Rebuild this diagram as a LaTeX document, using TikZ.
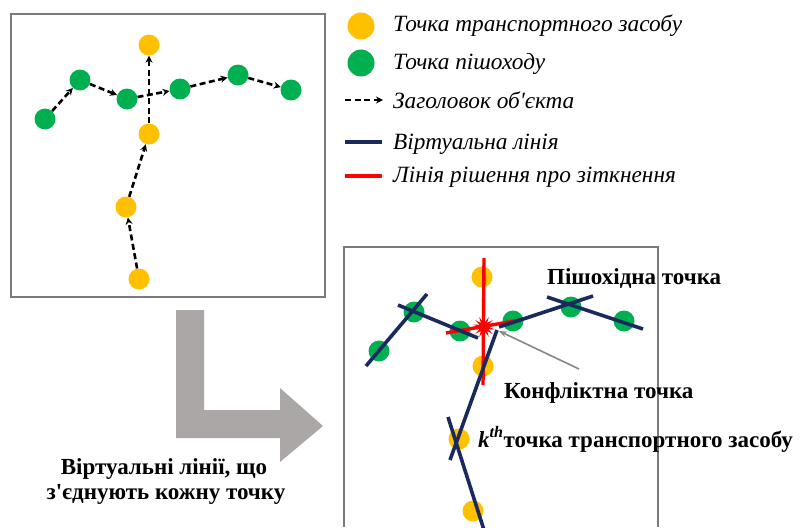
\documentclass[tikz,border=0pt]{standalone}
\usepackage{fontspec}
\setmainfont{Liberation Serif}[Ligatures=TeXOff]
\usetikzlibrary{arrows.meta,shapes.geometric,shapes.symbols}
\definecolor{veh}{HTML}{FFC000}
\definecolor{ped}{HTML}{00B050}
\definecolor{navy}{HTML}{1B2A5E}
\definecolor{boxgray}{HTML}{7A7A7A}
\definecolor{arrgray}{HTML}{ABA7A7}
\begin{document}
\begin{tikzpicture}[x=1pt,y=-1pt,
  vdot/.style={circle,fill=veh,minimum size=21pt,inner sep=0pt},
  pdot/.style={circle,fill=ped,minimum size=21pt,inner sep=0pt},
  bigdot/.style={minimum size=27pt},
  headarr/.style={draw=black,line width=2.6pt,dash pattern=on 6pt off 3.5pt,-{Stealth[length=7pt,width=7pt]}},
  vline/.style={draw=navy,line width=3.6pt},
  rline/.style={draw=red,line width=3.4pt},
  legtxt/.style={anchor=base west,font=\fontsize{23.3}{26}\selectfont\itshape,inner sep=0pt},
  lbl/.style={anchor=base west,font=\fontsize{23}{26}\selectfont\bfseries,inner sep=0pt},
  frame/.style={draw=boxgray,line width=1.6pt}]
\useasboundingbox (0,0) rectangle (802,527);
\fill[white] (0,0) rectangle (802,527);
% left box
\draw[frame] (11,14) rectangle (325,297);
\node[pdot] (g1) at (45,119) {};
\node[pdot] (g2) at (80,80) {};
\node[pdot] (g3) at (127,99) {};
\node[pdot] (g4) at (180,89) {};
\node[pdot] (g5) at (238,75) {};
\node[pdot] (g6) at (291,90) {};
\node[vdot] (y1) at (149,45) {};
\node[vdot] (y2) at (149,134) {};
\node[vdot] (y3) at (126,207) {};
\node[vdot] (y4) at (139,279) {};
\draw[headarr] (g1) -- (g2);
\draw[headarr] (g2) -- (g3);
\draw[headarr] (g3) -- (g4);
\draw[headarr] (g4) -- (g5);
\draw[headarr] (g5) -- (g6);
\draw[headarr] (y4) -- (y3);
\draw[headarr] (y3) -- (y2);
\draw[headarr] (y2) -- (y1);
% legend
\node[vdot,bigdot] (lv) at (361,26) {};
\node[pdot,bigdot] (lp) at (361,63) {};
\coordinate (lha) at (345,100);
\coordinate (lhb) at (383,100);
\draw[headarr] (lha) -- (lhb);
\coordinate (lba) at (345,142);
\coordinate (lbb) at (382,142);
\draw[vline] (lba) -- (lbb);
\coordinate (lra) at (345,176);
\coordinate (lrb) at (382,176);
\draw[rline] (lra) -- (lrb);
\node[legtxt] (t1) at (393,32) {Точка транспортного засобу};
\node[legtxt] (t2) at (393,70) {Точка пішоходу};
\node[legtxt] (t3) at (393,108) {Заголовок об'єкта};
\node[legtxt] (t4) at (393,149) {Віртуальна лінія};
\node[legtxt] (t5) at (393,182) {Лінія рішення про зіткнення};
% big L arrow
\fill[arrgray] (176,310) -- (204,310) -- (204,410) -- (280,410) -- (280,388) -- (323,426) -- (280,462) -- (280,438) -- (176,438) -- cycle;
\node[font=\fontsize{23}{26}\selectfont\bfseries,anchor=base,inner sep=0pt] (c1) at (164,474) {Віртуальні лінії, що};
\node[font=\fontsize{23}{26}\selectfont\bfseries,anchor=base,inner sep=0pt] (c2) at (166,499) {з'єднують кожну точку};
% right box
\draw[frame] (344,527) -- (344,247) -- (658,247) -- (658,527);
\node[pdot] (h1) at (379,351) {};
\node[pdot] (h2) at (414,312) {};
\node[pdot] (h3) at (460,331) {};
\node[pdot] (h4) at (513,321) {};
\node[pdot] (h5) at (571,307) {};
\node[pdot] (h6) at (624,321) {};
\node[vdot] (w1) at (482,277) {};
\node[vdot] (w2) at (483,366) {};
\node[vdot] (w3) at (459,439) {};
\node[vdot] (w4) at (473,511) {};
% red decision lines
\coordinate (ra) at (484,258);
\coordinate (rb) at (483,385);
\coordinate (rc) at (446,333);
\coordinate (rd) at (520,320);
\draw[rline] (ra) -- (rb);
\draw[rline] (rc) -- (rd);
\node[star,star points=14,star point ratio=2.2,fill=red,minimum size=22pt,inner sep=0pt] (burst) at (484,327) {};
% virtual lines
\coordinate (a1) at (366,366);
\coordinate (b1) at (427,294);
\coordinate (a2) at (398,305);
\coordinate (b2) at (478,338);
\coordinate (a3) at (499,327);
\coordinate (b3) at (593,296);
\coordinate (a4) at (547,297);
\coordinate (b4) at (643,329);
\coordinate (a5) at (497,330);
\coordinate (b5) at (450,460);
\coordinate (a6) at (448,417);
\coordinate (b6) at (484,530);
\draw[vline] (a1) -- (b1);
\draw[vline] (a2) -- (b2);
\draw[vline] (a3) -- (b3);
\draw[vline] (a4) -- (b4);
\draw[vline] (a5) -- (b5);
\draw[vline] (a6) -- (b6);
% conflict pointer
\coordinate (gp) at (579,369);
\coordinate (cp) at (499,331);
\draw[draw=arrgray!80!black,line width=1.6pt,-{Stealth[length=8pt,width=6pt]}] (gp) -- (cp);
% labels
\node[lbl] (l1) at (547,284) {Пішохідна точка};
\node[lbl] (l2) at (504,398) {Конфліктна точка};
\node[lbl] (l3) at (478,447) {\textit{k}\textsuperscript{\textit{th}}точка транспортного засобу};
\end{tikzpicture}
\end{document}
